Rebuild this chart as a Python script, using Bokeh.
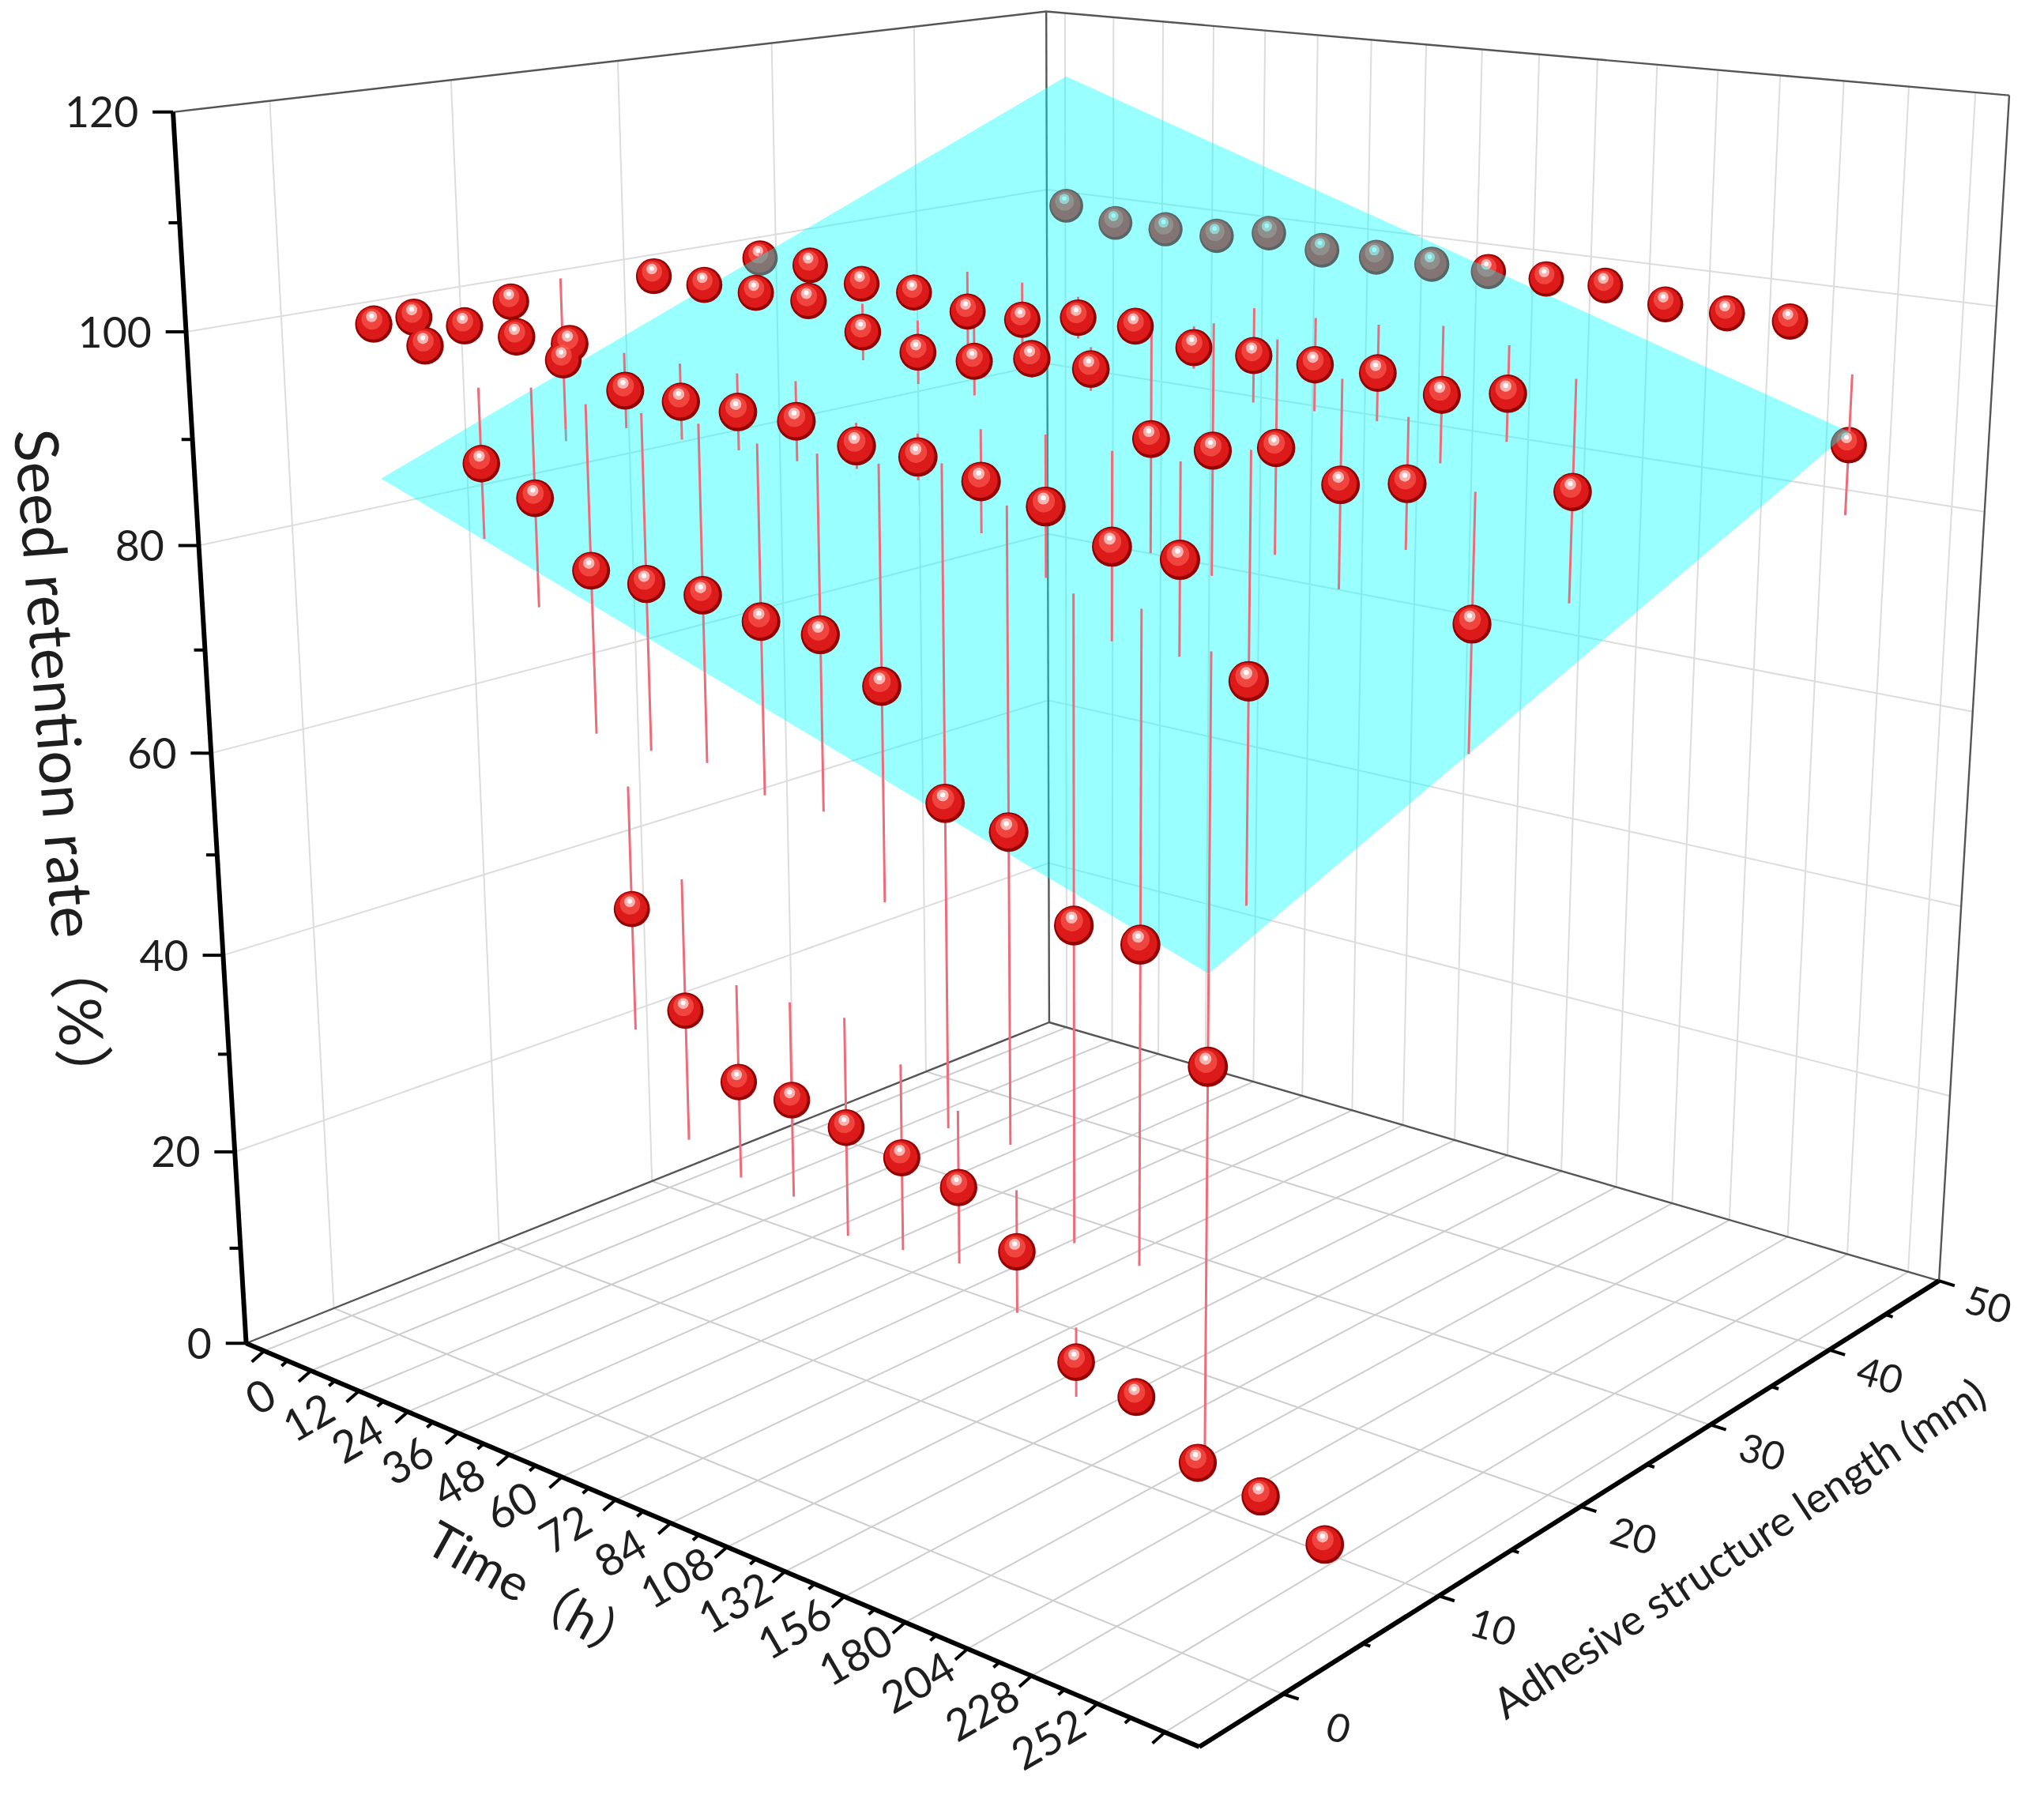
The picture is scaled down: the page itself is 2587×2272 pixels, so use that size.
import numpy as np
from bokeh.plotting import figure
from bokeh.models import Range1d
from bokeh.embed import file_html
from bokeh.resources import INLINE
from bokeh.core.properties import value

# ---------------- data ----------------
time_labels = ["0", "12", "24", "36", "48", "60", "72", "84", "108", "132", "156", "180", "204", "228", "252"]
time_index = list(range(15))
lengths_mm = [1.3, 3.5, 9.0, 17.6, 24.4, 46.3]

ret_1_3 = [100.0, 98.8, 88.8, 86.6, 81.0, 80.9, 81.0, 79.8, 79.8, 76.5, 67.6, 66.5, 59.9, 59.8, 51.0]
err_1_3 = [0.8, 1.0, 7.0, 10.1, 15.1, 15.3, 15.2, 15.6, 15.7, 19.1, 29.0, 27.6, 28.0, 28.0, 34.5]
ret_3_5 = [100.0, 100.0, 99.8, 100.0, 96.6, 96.5, 96.5, 96.6, 95.4, 95.4, 94.3, 93.2, 90.9, 90.9, 82.1]
err_3_5 = [0.5, 0.5, 0.5, 0.5, 3.4, 3.4, 3.4, 3.5, 2.0, 2.0, 4.4, 6.0, 7.9, 8.0, 18.7]
ret_9_0 = [99.9, 95.1, 42.0, 33.2, 27.6, 27.5, 26.5, 25.3, 24.2, 19.8, 11.0, 9.7, 5.5, 4.5, 2.2]
err_9_0 = [0.5, 7.8, 12.4, 13.3, 9.8, 9.8, 10.9, 9.2, 7.5, 6.0, 3.4, 0.5, 0.3, 0.3, 0.3]
ret_17_6 = [100.0, 99.9, 99.9, 99.9, 97.7, 96.6, 96.6, 97.7, 97.6, 92.1, 92.0, 93.2, 90.9, 92.0, 80.8]
err_17_6 = [0.5, 0.5, 0.5, 0.5, 2.7, 3.0, 3.2, 1.7, 2.0, 10.5, 11.4, 9.6, 9.3, 5.8, 11.5]
ret_24_4 = [100.0, 100.0, 98.9, 98.8, 97.7, 97.7, 98.7, 98.7, 97.5, 97.6, 97.6, 97.7, 96.6, 97.6, 89.8]
err_24_4 = [0.5, 1.0, 1.5, 1.8, 3.9, 3.6, 2.0, 1.7, 2.0, 4.4, 4.3, 4.4, 6.2, 4.3, 10.0]
ret_46_3 = [100.0, 98.8, 98.8, 98.8, 99.8, 98.7, 98.7, 98.7, 98.7, 98.7, 98.8, 97.7, 97.6, 97.6, 86.4]
err_46_3 = [0.3, 0.3, 0.3, 0.3, 0.3, 0.3, 0.3, 0.3, 0.3, 0.3, 0.3, 0.3, 0.3, 0.3, 6.9]

series_ret = [ret_1_3, ret_3_5, ret_9_0, ret_17_6, ret_24_4, ret_46_3]
series_err = [err_1_3, err_3_5, err_9_0, err_17_6, err_24_4, err_46_3]

z_ticks = [0, 20, 40, 60, 80, 100, 120]
len_ticks = [0, 10, 20, 30, 40, 50]

# ---------------- view ----------------
VW, VH = 2587, 2272
FIG_W, FIG_H = 2570, 2256
S = FIG_W / VW
T0, T1 = -1.39, 15.5          # time-axis extent (category positions)
LA, LB = -5.0, 50.0           # length-axis extent
ZM = 120.0
CAM = np.array([[0.929961, 1.324912, -0.1106959, 0.3131223],
                [0.1000805, -0.1148864, -1.5808, 1.711806],
                [-0.186132, 0.2258811, -0.07961951, 1.0]])

def P3(t, L, z):
    t, L, z = np.broadcast_arrays(np.asarray(t, float), np.asarray(L, float), np.asarray(z, float))
    X = np.vstack([((t - T0) / (T1 - T0)).ravel(), ((L - LA) / (LB - LA)).ravel(),
                   (z / ZM).ravel(), np.ones(t.size)])
    h = CAM @ X
    return h[0] / h[2] * 1000.0, VH - h[1] / h[2] * 1000.0, h[2]

p = figure(width=FIG_W, height=FIG_H, x_range=Range1d(0, VW), y_range=Range1d(0, VH),
           output_backend="svg", toolbar_location=None, min_border=0)
p.axis.visible = False
p.grid.visible = False
p.outline_line_color = None
p.background_fill_color = "white"

def seg(a, b, **kw):
    xa, ya, _ = P3(*a); xb, yb, _ = P3(*b)
    p.segment(xa, ya, xb, yb, **kw)

FONT = "Lato, 'Noto Sans CJK SC'"

# walls and floor grid
wall = dict(line_color="#dcdcdc", line_width=2.0 * S)
flo = dict(line_color="#cdcdcd", line_width=2.0 * S)
Lg = np.array([0, 10, 20, 30, 40.])
tg = np.arange(-1, 16.)
zg = np.array([20, 40, 60, 80, 100.])
seg((T0, Lg, 0), (T0, Lg, ZM), **wall)
seg((T0, LA, zg), (T0, LB, zg), **wall)
seg((tg, LB, 0), (tg, LB, ZM), **wall)
seg((T0, LB, zg), (T1, LB, zg), **wall)
seg((tg, LA, 0), (tg, LB, 0), **flo)
seg((T0, Lg, 0), (T1, Lg, 0), **flo)
edge = dict(line_color="#555555", line_width=2.4 * S)
seg((T0, LB, 0), (T0, LB, ZM), **edge)
seg((T1, LB, 0), (T1, LB, ZM), **edge)
seg((T0, LA, ZM), (T0, LB, ZM), **edge)
seg((T0, LB, ZM), (T1, LB, ZM), **edge)
seg((T0, LA, 0), (T0, LB, 0), **edge)
seg((T0, LB, 0), (T1, LB, 0), **edge)

# ---------------- points, error bars, fitted plane ----------------
tt, LL, RR, EE = [], [], [], []
for Lv, r, e in zip(lengths_mm, series_ret, series_err):
    tt += time_index; LL += [Lv] * len(time_index); RR += r; EE += e
tt, LL, RR, EE = map(np.array, (tt, LL, RR, EE))
Amat = np.column_stack([np.ones_like(tt, dtype=float), tt, LL])
coef, *_ = np.linalg.lstsq(Amat, RR, rcond=None)
zplane = coef[0] + coef[1] * tt + coef[2] * LL
L_min, L_max = min(lengths_mm), max(lengths_mm)
# spheres on the plane's front edge stick out in front of it
below = (RR < zplane) & (LL > L_min)

px, py, pw = P3(tt, LL, RR)
order = np.argsort(-pw)

BAR = dict(line_color="#ee6b7a", line_width=3.0 * S)

def draw_bars(lo, hi):
    m = hi > lo
    if m.any():
        seg((tt[m], LL[m], lo[m]), (tt[m], LL[m], hi[m]), **BAR)

def draw_spheres(idx):
    if len(idx) == 0:
        return
    x = px[idx]; y = py[idx]; r = 23.0 * pw[idx] ** -0.55
    p.circle(x, y, radius=r, fill_color="#940000", line_color=None)
    p.circle(x - 0.04 * r, y + 0.05 * r, radius=0.88 * r, fill_color="#dc1a1a", line_color=None)
    p.circle(x - 0.10 * r, y + 0.26 * r, radius=0.56 * r, fill_color="#ff6a5c", fill_alpha=0.55, line_color=None)
    p.circle(x - 0.12 * r, y + 0.40 * r, radius=0.3 * r, fill_color="#ffffff", fill_alpha=0.6, line_color=None)
    p.circle(x - 0.12 * r, y + 0.43 * r, radius=0.13 * r, fill_color="#ffffff", fill_alpha=0.95, line_color=None)

lo = RR - EE; hi = RR + EE
# everything lying under the fitted plane is drawn first
draw_bars(lo, np.minimum(hi, zplane))
draw_spheres([i for i in order if below[i]])
t_min, t_max = min(time_index), max(time_index)
ct = np.array([t_min, t_min, t_max, t_max]); cL = np.array([L_min, L_max, L_max, L_min])
cz = coef[0] + coef[1] * ct + coef[2] * cL
qx, qy, _ = P3(ct, cL, cz)
p.patch(qx, qy, fill_color="#00ffff", fill_alpha=0.4, line_color=None)
draw_bars(np.maximum(lo, zplane), hi)
draw_spheres([i for i in order if not below[i]])

# ---------------- axes ----------------
axis = dict(line_color="black", line_width=6.0 * S)
seg((T0, LA, 0), (T0, LA, ZM), **axis)
seg((T0, LA, 0), (T1, LA, 0), **axis)
seg((T1, LA, 0), (T1, LB, 0), **axis)
tk = dict(line_color="black", line_width=4.0 * S)

# z axis
bx, by, _ = P3(T0, LA, np.array(z_ticks, float))
p.segment(bx, by, bx - 26, by, **tk)
mx, my, _ = P3(T0, LA, np.arange(10, 120, 20.))
p.segment(mx, my, mx - 14, my, **tk)
p.text(bx - 44, by, text=[str(v) for v in z_ticks], text_align="right", text_baseline="middle",
       text_font=value(FONT), text_font_size="%.1fpx" % (54 * S), text_color="#1e1e1e")

# time axis
d = np.array([-0.75, -0.66])
bx, by, _ = P3(tg, LA, 0)
p.segment(bx, by, bx + 21 * d[0], by + 21 * d[1], **tk)
mx, my, _ = P3(np.arange(-0.5, 15.0, 1.0), LA, 0)
p.segment(mx, my, mx + 10 * d[0], my + 10 * d[1], **tk)
lx, ly, _ = P3(np.array(time_index, float), LA - 2.8, -0.5)
p.text(lx, ly, text=time_labels, angle=np.radians(30), text_align="center", text_baseline="middle",
       text_font=value(FONT), text_font_size="%.1fpx" % (56 * S), text_color="#1e1e1e")

# length axis
d2 = np.array([0.95, -0.3])
bx, by, _ = P3(T1, np.array(len_ticks, float), 0)
p.segment(bx, by, bx + 21 * d2[0], by + 21 * d2[1], **tk)
mx, my, _ = P3(T1, np.arange(5, 50, 10.), 0)
p.segment(mx, my, mx + 10 * d2[0], my + 10 * d2[1], **tk)
lx, ly, _ = P3(T1 + 0.8, np.array(len_ticks, float), -1.0)
p.text(lx, ly, text=[str(v) for v in len_ticks], angle=np.radians(-16), text_align="center",
       text_baseline="middle", text_font=value(FONT), text_font_size="%.1fpx" % (50 * S),
       text_color="#1e1e1e")

# axis titles
p.text([80], [VH - 978], text=["Seed retention rate（%）"], angle=np.radians(-85.7), text_align="center",
       text_baseline="middle", text_font=value(FONT), text_font_size="%.1fpx" % (77 * S), text_color="#1e1e1e")
p.text([682], [VH - 2028], text=["Time（h）"], angle=np.radians(-29), text_align="center",
       text_baseline="middle", text_font=value(FONT), text_font_size="%.1fpx" % (64 * S), text_color="#1e1e1e")
p.text([2214], [VH - 1972], text=["Adhesive structure length (mm)"], angle=np.radians(33.4),
       text_align="center", text_baseline="middle", text_font=value(FONT),
       text_font_size="%.1fpx" % (54 * S), text_color="#1e1e1e")

open("out.html", "w").write(file_html(p, INLINE))
